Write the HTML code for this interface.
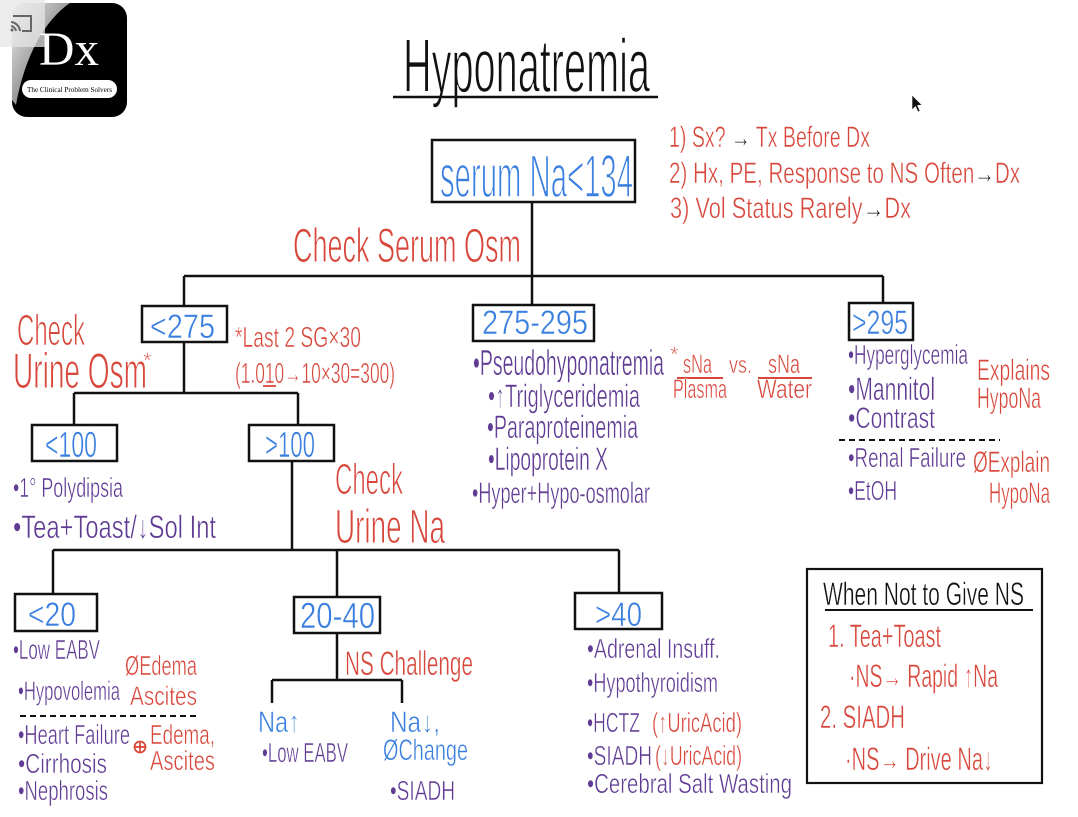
<!DOCTYPE html>
<html><head><meta charset="utf-8">
<style>
html,body{margin:0;padding:0;background:#fff;}
svg{display:block;}
text{font-family:"Liberation Sans","DejaVu Sans",sans-serif;stroke:#fff;stroke-width:0.5px;}
text.big{stroke-width:1.6px;}
text.med{stroke-width:1px;}
.r{fill:#d8473b;} .b{fill:#3a7fe0;} .p{fill:#5f3b93;} .k{fill:#111;}
.ln{stroke:#111;stroke-width:2.5;fill:none;}
.bx{stroke:#111;stroke-width:2.5;fill:#fff;}
</style></head>
<body>
<svg width="1078" height="817" viewBox="0 0 1078 817" xmlns="http://www.w3.org/2000/svg">
<defs>
<linearGradient id="g1" x1="0" y1="0" x2="1" y2="1">
<stop offset="0" stop-color="#f2f2f2"/><stop offset="0.5" stop-color="#9a9a9a"/><stop offset="1" stop-color="#222"/>
</linearGradient>
</defs>
<rect width="1078" height="817" fill="#fff"/>

<!-- Logo -->
<rect x="12" y="3" width="115" height="114" rx="15" fill="#000"/>
<path d="M27,3 L70,3 C45,20 25,55 16,105 L12,100 L12,18 Q12,3 27,3 Z" fill="url(#g1)"/>
<rect x="0" y="0" width="45" height="47" fill="#e6e6e6" opacity="0.75"/>
<text x="39" y="65" font-size="48" textLength="60" lengthAdjust="spacingAndGlyphs" style="font-family:'Liberation Serif',serif;stroke:none" fill="#fff">Dx</text>
<rect x="22" y="80" width="95" height="18" rx="9" fill="#fff"/>
<text x="27" y="92" font-size="7.5" textLength="85" lengthAdjust="spacingAndGlyphs" style="font-family:'Liberation Serif',serif;stroke:none" fill="#000">The Clinical Problem Solvers</text>
<!-- cast icon -->
<path d="M13,16 L31,16 L31,31 L22,31" stroke="#666" stroke-width="2" fill="none"/>
<path d="M11,22 A10,10 0 0 1 20,31 M11,26 A6,6 0 0 1 16,31" stroke="#666" stroke-width="2" fill="none"/>
<circle cx="12" cy="30" r="1.5" fill="#666"/>

<!-- cursor -->
<path d="M912,95 L912,110 L915.5,106.5 L918,112 L920,111 L917.5,105.5 L922,105 Z" fill="#111" stroke="#fff" stroke-width="0.6"/>

<!-- Title -->
<text x="403" y="92" font-size="76" textLength="247" lengthAdjust="spacingAndGlyphs" class="k big">Hyponatremia</text>
<line x1="393" y1="97" x2="658" y2="97" class="ln" stroke-width="3"/>

<!-- Notes -->
<text x="669" y="147" font-size="30" textLength="201" lengthAdjust="spacingAndGlyphs" class="r">1) Sx? <tspan class="k">→</tspan> Tx Before Dx</text>
<text x="669" y="183" font-size="30" textLength="351" lengthAdjust="spacingAndGlyphs" class="r">2) Hx, PE, Response to NS Often<tspan class="k">→</tspan>Dx</text>
<text x="670" y="218" font-size="30" textLength="241" lengthAdjust="spacingAndGlyphs" class="r">3) Vol Status Rarely<tspan class="k">→</tspan>Dx</text>

<!-- connectors -->
<g class="ln">
<line x1="532" y1="202" x2="532" y2="305"/>
<line x1="184" y1="276" x2="883" y2="276"/>
<line x1="184" y1="276" x2="184" y2="306"/>
<line x1="883" y1="276" x2="883" y2="303"/>
<line x1="184" y1="342" x2="184" y2="393"/>
<line x1="74" y1="393" x2="298" y2="393"/>
<line x1="74" y1="393" x2="74" y2="425"/>
<line x1="298" y1="393" x2="298" y2="425"/>
<line x1="292" y1="461" x2="292" y2="550"/>
<line x1="53" y1="550" x2="619" y2="550"/>
<line x1="53" y1="550" x2="53" y2="594"/>
<line x1="337" y1="550" x2="337" y2="597"/>
<line x1="619" y1="550" x2="619" y2="593"/>
<line x1="337" y1="633" x2="337" y2="680"/>
<line x1="272" y1="680" x2="402" y2="680"/>
<line x1="272" y1="680" x2="272" y2="703"/>
<line x1="402" y1="680" x2="402" y2="703"/>
</g>

<!-- boxes -->
<rect x="432" y="140" width="203" height="62" class="bx"/>
<rect x="142" y="306" width="85" height="36" class="bx"/>
<rect x="473" y="305" width="121" height="36" class="bx"/>
<rect x="849" y="303" width="64" height="37" class="bx"/>
<rect x="32" y="425" width="85" height="36" class="bx"/>
<rect x="249" y="425" width="85" height="36" class="bx"/>
<rect x="15" y="594" width="82" height="37" class="bx"/>
<rect x="294" y="597" width="86" height="36" class="bx"/>
<rect x="575" y="593" width="87" height="36" class="bx"/>

<!-- box labels -->
<text x="440" y="197" font-size="60" textLength="193" lengthAdjust="spacingAndGlyphs" class="b big">serum Na&lt;134</text>
<text x="150" y="338" font-size="34" textLength="65" lengthAdjust="spacingAndGlyphs" class="b">&lt;275</text>
<text x="482" y="334" font-size="34" textLength="106" lengthAdjust="spacingAndGlyphs" class="b">275-295</text>
<text x="852" y="334" font-size="34" textLength="56" lengthAdjust="spacingAndGlyphs" class="b">&gt;295</text>
<text x="45" y="457" font-size="36" textLength="52" lengthAdjust="spacingAndGlyphs" class="b">&lt;100</text>
<text x="265" y="457" font-size="36" textLength="50" lengthAdjust="spacingAndGlyphs" class="b">&gt;100</text>
<text x="28" y="626" font-size="34" textLength="48" lengthAdjust="spacingAndGlyphs" class="b">&lt;20</text>
<text x="300" y="628" font-size="36" textLength="75" lengthAdjust="spacingAndGlyphs" class="b">20-40</text>
<text x="595" y="626" font-size="34" textLength="47" lengthAdjust="spacingAndGlyphs" class="b">&gt;40</text>

<!-- Check Serum Osm -->
<text x="293" y="262" font-size="48" textLength="228" lengthAdjust="spacingAndGlyphs" class="r med">Check Serum Osm</text>

<!-- Check Urine Osm -->
<text x="17" y="345" font-size="44" textLength="68" lengthAdjust="spacingAndGlyphs" class="r med">Check</text>
<text x="13" y="388" font-size="50" textLength="134" lengthAdjust="spacingAndGlyphs" class="r med">Urine Osm</text>
<text x="143" y="368" font-size="22" class="r">*</text>
<text x="235" y="347" font-size="29" textLength="126" lengthAdjust="spacingAndGlyphs" class="r">*Last 2 SG×30</text>
<text x="235" y="383" font-size="29" textLength="160" lengthAdjust="spacingAndGlyphs" class="r">(1.010→10×30=300)</text>
<line x1="263" y1="386" x2="276" y2="386" stroke="#d8473b" stroke-width="1.8"/>

<!-- <100 list -->
<text x="13" y="497" font-size="28" textLength="110" lengthAdjust="spacingAndGlyphs" class="p">•1° Polydipsia</text>
<text x="13" y="538" font-size="32" textLength="203" lengthAdjust="spacingAndGlyphs" class="p">•Tea+Toast/↓Sol Int</text>

<!-- Check Urine Na -->
<text x="335" y="494" font-size="44" textLength="68" lengthAdjust="spacingAndGlyphs" class="r med">Check</text>
<text x="335" y="543" font-size="48" textLength="110" lengthAdjust="spacingAndGlyphs" class="r med">Urine Na</text>

<!-- 275-295 list -->
<text x="473" y="375" font-size="36" textLength="191" lengthAdjust="spacingAndGlyphs" class="p">•Pseudohyponatremia</text>
<text x="670" y="362" font-size="22" class="r">*</text>
<text x="683" y="373" font-size="27" textLength="29" lengthAdjust="spacingAndGlyphs" class="r">sNa</text>
<line x1="677" y1="378" x2="723" y2="378" stroke="#d8473b" stroke-width="2"/>
<text x="673" y="398" font-size="27" textLength="54" lengthAdjust="spacingAndGlyphs" class="r">Plasma</text>
<text x="729" y="373" font-size="24" textLength="23" lengthAdjust="spacingAndGlyphs" class="r">vs.</text>
<text x="768" y="373" font-size="27" textLength="32" lengthAdjust="spacingAndGlyphs" class="r">sNa</text>
<line x1="758" y1="378" x2="812" y2="378" stroke="#d8473b" stroke-width="2"/>
<text x="757" y="398" font-size="27" textLength="55" lengthAdjust="spacingAndGlyphs" class="r">Water</text>
<text x="488" y="407" font-size="32" textLength="152" lengthAdjust="spacingAndGlyphs" class="p">•↑Triglyceridemia</text>
<text x="487" y="438" font-size="32" textLength="151" lengthAdjust="spacingAndGlyphs" class="p">•Paraproteinemia</text>
<text x="488" y="470" font-size="32" textLength="120" lengthAdjust="spacingAndGlyphs" class="p">•Lipoprotein X</text>
<text x="472" y="503" font-size="30" textLength="178" lengthAdjust="spacingAndGlyphs" class="p">•Hyper+Hypo-osmolar</text>

<!-- >295 list -->
<text x="848" y="364" font-size="28" textLength="120" lengthAdjust="spacingAndGlyphs" class="p">•Hyperglycemia</text>
<text x="848" y="400" font-size="32" textLength="87" lengthAdjust="spacingAndGlyphs" class="p">•Mannitol</text>
<text x="848" y="428" font-size="30" textLength="87" lengthAdjust="spacingAndGlyphs" class="p">•Contrast</text>
<text x="977" y="380" font-size="30" textLength="73" lengthAdjust="spacingAndGlyphs" class="r">Explains</text>
<text x="977" y="408" font-size="30" textLength="64" lengthAdjust="spacingAndGlyphs" class="r">HypoNa</text>
<line x1="839" y1="440" x2="1000" y2="440" stroke="#111" stroke-width="2" stroke-dasharray="6 4"/>
<text x="848" y="467" font-size="28" textLength="118" lengthAdjust="spacingAndGlyphs" class="p">•Renal Failure</text>
<text x="848" y="500" font-size="28" textLength="49" lengthAdjust="spacingAndGlyphs" class="p">•EtOH</text>
<text x="973" y="472" font-size="30" textLength="77" lengthAdjust="spacingAndGlyphs" class="r">ØExplain</text>
<text x="989" y="503" font-size="30" textLength="61" lengthAdjust="spacingAndGlyphs" class="r">HypoNa</text>

<!-- <20 list -->
<text x="13" y="659" font-size="28" textLength="87" lengthAdjust="spacingAndGlyphs" class="p">•Low EABV</text>
<text x="18" y="700" font-size="27" textLength="102" lengthAdjust="spacingAndGlyphs" class="p">•Hypovolemia</text>
<text x="125" y="675" font-size="28" textLength="72" lengthAdjust="spacingAndGlyphs" class="r">ØEdema</text>
<text x="130" y="705" font-size="27" textLength="67" lengthAdjust="spacingAndGlyphs" class="r">Ascites</text>
<line x1="20" y1="716" x2="198" y2="716" stroke="#111" stroke-width="2" stroke-dasharray="6 4"/>
<text x="18" y="744" font-size="28" textLength="112" lengthAdjust="spacingAndGlyphs" class="p">•Heart Failure</text>
<circle cx="140" cy="747" r="5.5" fill="none" stroke="#d8473b" stroke-width="1.8"/>
<line x1="134.5" y1="747" x2="145.5" y2="747" stroke="#d8473b" stroke-width="1.8"/>
<line x1="140" y1="741.5" x2="140" y2="752.5" stroke="#d8473b" stroke-width="1.8"/>
<text x="150" y="744" font-size="28" textLength="65" lengthAdjust="spacingAndGlyphs" class="r">Edema,</text>
<text x="150" y="770" font-size="28" textLength="65" lengthAdjust="spacingAndGlyphs" class="r">Ascites</text>
<text x="18" y="773" font-size="28" textLength="89" lengthAdjust="spacingAndGlyphs" class="p">•Cirrhosis</text>
<text x="18" y="800" font-size="28" textLength="90" lengthAdjust="spacingAndGlyphs" class="p">•Nephrosis</text>

<!-- 20-40 subtree -->
<text x="345" y="675" font-size="34" textLength="128" lengthAdjust="spacingAndGlyphs" class="r">NS Challenge</text>
<text x="258" y="732" font-size="30" textLength="42" lengthAdjust="spacingAndGlyphs" class="b">Na↑</text>
<text x="262" y="762" font-size="28" textLength="86" lengthAdjust="spacingAndGlyphs" class="p">•Low EABV</text>
<text x="390" y="732" font-size="30" textLength="50" lengthAdjust="spacingAndGlyphs" class="b">Na↓,</text>
<text x="383" y="760" font-size="30" textLength="85" lengthAdjust="spacingAndGlyphs" class="b">ØChange</text>
<text x="390" y="800" font-size="28" textLength="65" lengthAdjust="spacingAndGlyphs" class="p">•SIADH</text>

<!-- >40 list -->
<text x="587" y="658" font-size="28" textLength="133" lengthAdjust="spacingAndGlyphs" class="p">•Adrenal Insuff.</text>
<text x="587" y="692" font-size="28" textLength="131" lengthAdjust="spacingAndGlyphs" class="p">•Hypothyroidism</text>
<text x="587" y="732" font-size="28" textLength="53" lengthAdjust="spacingAndGlyphs" class="p">•HCTZ</text>
<text x="652" y="732" font-size="28" textLength="90" lengthAdjust="spacingAndGlyphs" class="r">(↑UricAcid)</text>
<text x="587" y="765" font-size="28" textLength="65" lengthAdjust="spacingAndGlyphs" class="p">•SIADH</text>
<text x="655" y="765" font-size="28" textLength="87" lengthAdjust="spacingAndGlyphs" class="r">(↓UricAcid)</text>
<text x="587" y="793" font-size="28" textLength="205" lengthAdjust="spacingAndGlyphs" class="p">•Cerebral Salt Wasting</text>

<!-- When Not to Give NS box -->
<rect x="807" y="569" width="235" height="214" fill="#fff" stroke="#111" stroke-width="2.2"/>
<text x="823" y="605" font-size="32" textLength="201" lengthAdjust="spacingAndGlyphs" class="k">When Not to Give NS</text>
<line x1="825" y1="610" x2="1033" y2="610" stroke="#111" stroke-width="2"/>
<text x="828" y="647" font-size="32" textLength="113" lengthAdjust="spacingAndGlyphs" class="r">1. Tea+Toast</text>
<text x="849" y="687" font-size="32" textLength="149" lengthAdjust="spacingAndGlyphs" class="r">·NS→ Rapid ↑Na</text>
<text x="820" y="728" font-size="32" textLength="85" lengthAdjust="spacingAndGlyphs" class="r">2. SIADH</text>
<text x="845" y="770" font-size="32" textLength="148" lengthAdjust="spacingAndGlyphs" class="r">·NS→ Drive Na↓</text>
</svg>
</body></html>
